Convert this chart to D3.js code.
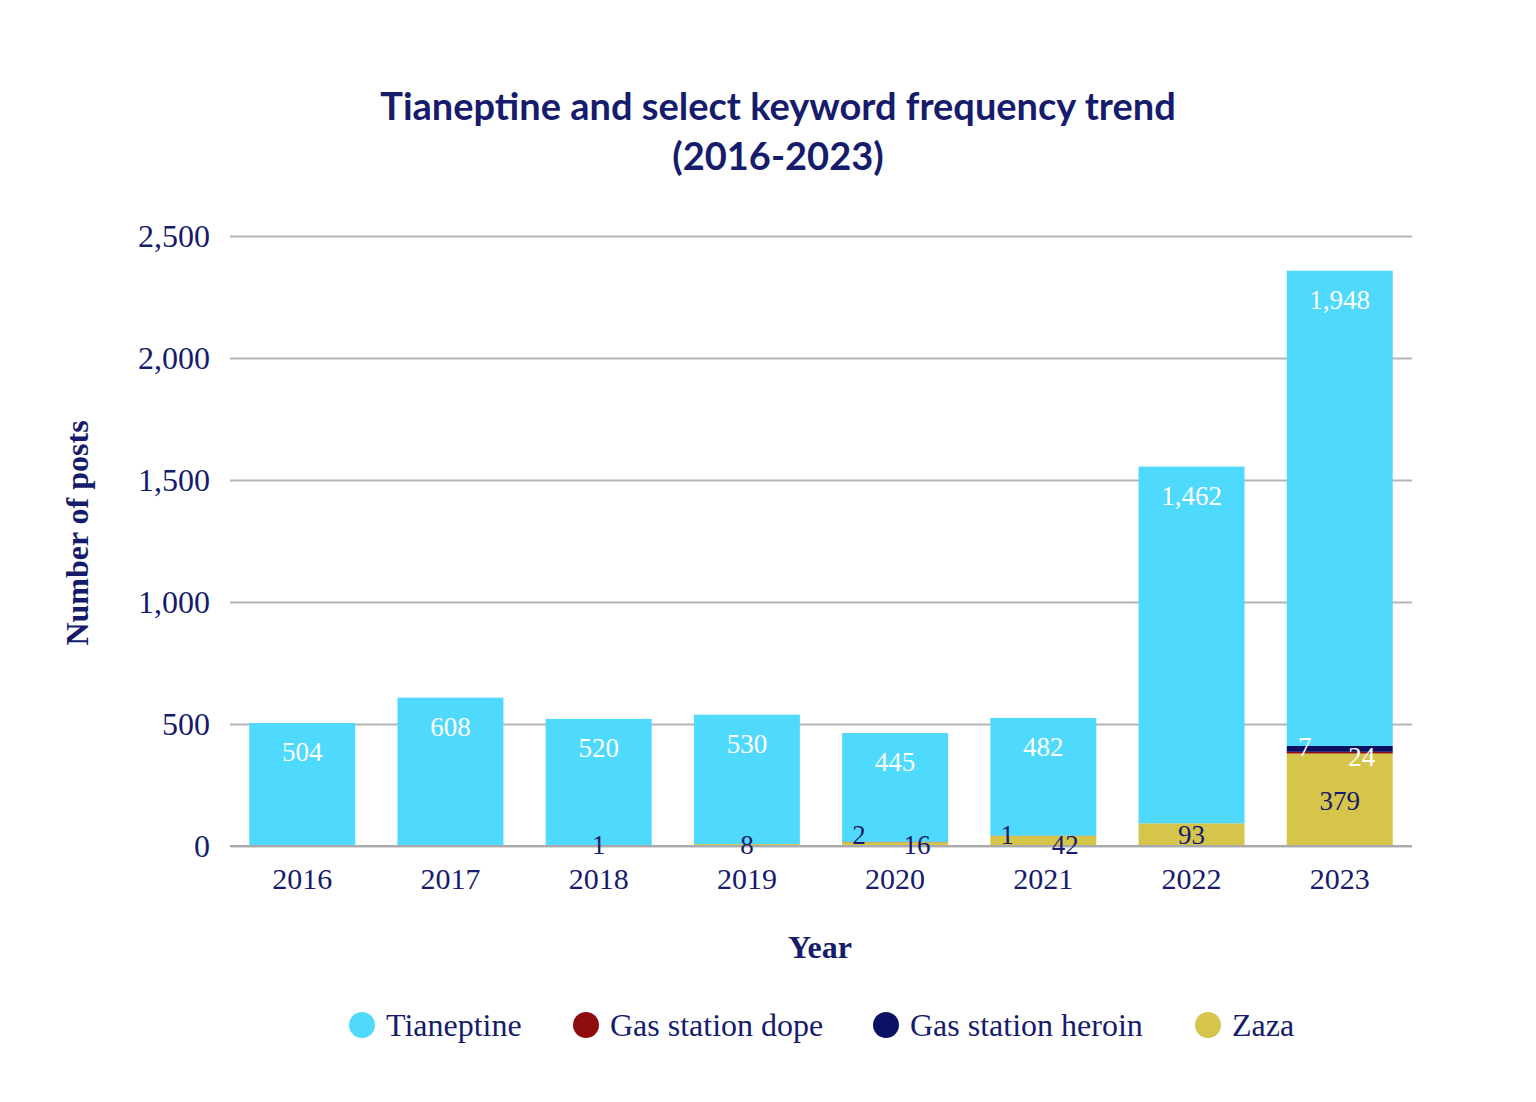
<!DOCTYPE html>
<html><head><meta charset="utf-8">
<script src="https://cdn.jsdelivr.net/npm/d3@7"></script>
<style>body{margin:0;background:#fff}svg{display:block}</style>
</head><body><svg width="1536" height="1102"></svg>
<script>
const years = ["2016","2017","2018","2019","2020","2021","2022","2023"];
const tianeptine = [504,608,520,530,445,482,1462,1948];
const gasDope = [0,0,0,0,0,0,0,7];
const gasHeroin = [0,0,1,0,2,1,0,24];
const zaza = [0,0,0,8,16,42,93,379];
const seriesNames = ["Tianeptine","Gas station dope","Gas station heroin","Zaza"];
const colors = {"Tianeptine":"#4fd9fc","Gas station dope":"#8e0c0c","Gas station heroin":"#0b1263","Zaza":"#d6c54b"};
const yTicks = [0,500,1000,1500,2000,2500];
const navy = "#161c6b";
const serif = "'Liberation Serif', 'DejaVu Serif', serif";

const rows = years.map((y,i)=>({year:y,"Zaza":zaza[i],"Gas station dope":gasDope[i],"Gas station heroin":gasHeroin[i],"Tianeptine":tianeptine[i]}));
const stack = d3.stack().keys(["Zaza","Gas station dope","Gas station heroin","Tianeptine"])(rows);

const svg = d3.select("svg");
const x = d3.scaleBand().domain(years).range([230,1412]).paddingInner(0.285).paddingOuter(0.13);
const y = d3.scaleLinear().domain([0,2500]).range([846,236]);

svg.append("text").attr("x",778).attr("y",120).attr("text-anchor","middle")
  .attr("font-family","Lato, 'Open Sans', sans-serif").attr("font-weight",700).attr("font-size",38).attr("fill",navy)
  .text("Tianeptine and select keyword frequency trend");
svg.append("text").attr("x",778).attr("y",170).attr("text-anchor","middle")
  .attr("font-family","Lato, 'Open Sans', sans-serif").attr("font-weight",700).attr("font-size",38).attr("fill",navy)
  .text("(2016-2023)");

const yAxis = svg.append("g").attr("transform","translate(230,0)")
  .call(d3.axisLeft(y).tickValues(yTicks).tickSize(-1182).tickFormat(d3.format(",")));
yAxis.select(".domain").remove();
yAxis.selectAll("line").attr("stroke","#b5b5b5").attr("stroke-width",2);
yAxis.selectAll("text").attr("x",-20).attr("font-family",serif).attr("font-size",32).attr("fill",navy);

svg.append("g").selectAll("g").data(stack).join("g").attr("fill",d=>colors[d.key])
  .selectAll("rect").data(d=>d).join("rect")
  .attr("x",d=>x(d.data.year)).attr("width",x.bandwidth())
  .attr("y",d=>y(d[1])).attr("height",d=>y(d[0])-y(d[1]));

const xAxis = svg.append("g").attr("transform","translate(0,846)").call(d3.axisBottom(x).tickSize(0));
xAxis.select(".domain").attr("stroke","#aaa").attr("stroke-width",2).attr("d","M230,0H1412");
xAxis.selectAll("text").attr("dy",40).attr("font-family",serif).attr("font-size",30).attr("fill",navy);

const lab = svg.append("g").attr("font-family",serif).attr("font-size",27).attr("text-anchor","middle");
rows.forEach((r,i)=>{
  const cx = x(r.year)+x.bandwidth()/2;
  const top = y(r["Zaza"]+r["Gas station dope"]+r["Gas station heroin"]+r["Tianeptine"]);
  lab.append("text").attr("x",cx).attr("y",top+38).attr("fill","#fff").text(d3.format(",")(r["Tianeptine"]));
  const small = r["Gas station heroin"]>0 && r["Zaza"]>0;
  if (r["Zaza"]>0) {
    if (r["Zaza"]>200) lab.append("text").attr("x",cx).attr("y",y(r["Zaza"]/2)+10).attr("fill",navy).text(r["Zaza"]);
    else lab.append("text").attr("x",cx+(small?22:0)).attr("y",y(0)+(r["Zaza"]>60?-2:8)).attr("fill",navy).text(r["Zaza"]);
  }
  if (r["Gas station heroin"]>0) {
    if (r["Gas station heroin"]>10) lab.append("text").attr("x",cx+22).attr("y",y(r["Zaza"])+12).attr("fill","#fff").text(r["Gas station heroin"]);
    else lab.append("text").attr("x",cx+(small?-36:0)).attr("y",y(0)+(small?-2:8)).attr("fill",navy).text(r["Gas station heroin"]);
  }
  if (r["Gas station dope"]>0) lab.append("text").attr("x",cx-35).attr("y",y(r["Zaza"])+2).attr("fill","#fff").text(r["Gas station dope"]);
});

svg.append("text").attr("transform","translate(88,533) rotate(-90)").attr("text-anchor","middle")
  .attr("font-family",serif).attr("font-weight",700).attr("font-size",32).attr("fill",navy).text("Number of posts");
svg.append("text").attr("x",820).attr("y",958).attr("text-anchor","middle")
  .attr("font-family",serif).attr("font-weight",700).attr("font-size",32).attr("fill",navy).text("Year");

const legX = [362,586,886,1208];
const leg = svg.append("g").attr("font-family",serif).attr("font-size",32).attr("fill",navy);
seriesNames.forEach((n,i)=>{
  leg.append("circle").attr("cx",legX[i]).attr("cy",1025).attr("r",13).attr("fill",colors[n]);
  leg.append("text").attr("x",legX[i]+24).attr("y",1036).text(n);
});
</script></body></html>
